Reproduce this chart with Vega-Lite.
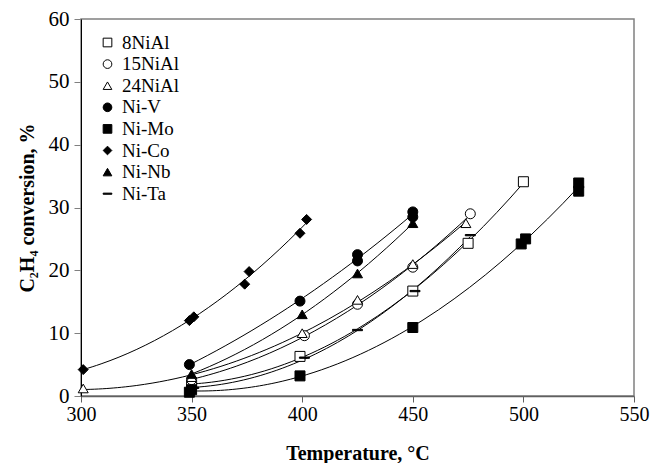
{
  "$schema": "https://vega.github.io/schema/vega-lite/v6.json",
  "autosize": {"type": "none"},
  "padding": {"left": 81, "top": 19, "right": 18, "bottom": 67},
  "width": 553,
  "height": 377,
  "background": "white",
  "config": {
    "view": {"stroke": "#808080", "strokeWidth": 1.5},
    "font": "Liberation Serif",
    "axis": {"grid": false, "labelFont": "Liberation Serif", "titleFont": "Liberation Serif", "labelColor": "black", "titleColor": "black", "labelFontSize": 20, "titleFontSize": 20, "titleFontWeight": "bold"}
  },
  "data": {"values": [
    {"s": "8NiAl", "t": 350, "v": 1.8},
    {"s": "8NiAl", "t": 399, "v": 6.3},
    {"s": "8NiAl", "t": 450, "v": 16.7},
    {"s": "8NiAl", "t": 475, "v": 24.3},
    {"s": "8NiAl", "t": 500, "v": 34.1},
    {"s": "15NiAl", "t": 350, "v": 2.6},
    {"s": "15NiAl", "t": 401, "v": 9.6},
    {"s": "15NiAl", "t": 425, "v": 14.6},
    {"s": "15NiAl", "t": 450, "v": 20.5},
    {"s": "15NiAl", "t": 476, "v": 29.0},
    {"s": "24NiAl", "t": 301, "v": 1.2},
    {"s": "24NiAl", "t": 350, "v": 3.0},
    {"s": "24NiAl", "t": 400, "v": 10.0},
    {"s": "24NiAl", "t": 425, "v": 15.3},
    {"s": "24NiAl", "t": 450, "v": 21.0},
    {"s": "24NiAl", "t": 474, "v": 27.5},
    {"s": "Ni-V", "t": 349, "v": 5.0},
    {"s": "Ni-V", "t": 399, "v": 15.1},
    {"s": "Ni-V", "t": 425, "v": 22.5},
    {"s": "Ni-V", "t": 425, "v": 21.5},
    {"s": "Ni-V", "t": 450, "v": 29.3},
    {"s": "Ni-V", "t": 450, "v": 28.5},
    {"s": "Ni-Mo", "t": 349, "v": 0.6},
    {"s": "Ni-Mo", "t": 350, "v": 1.0},
    {"s": "Ni-Mo", "t": 399, "v": 3.2},
    {"s": "Ni-Mo", "t": 450, "v": 10.9},
    {"s": "Ni-Mo", "t": 499, "v": 24.2},
    {"s": "Ni-Mo", "t": 501, "v": 25.0},
    {"s": "Ni-Mo", "t": 525, "v": 33.9},
    {"s": "Ni-Mo", "t": 525, "v": 32.6},
    {"s": "Ni-Co", "t": 301, "v": 4.2},
    {"s": "Ni-Co", "t": 349, "v": 12.0},
    {"s": "Ni-Co", "t": 351, "v": 12.6},
    {"s": "Ni-Co", "t": 374, "v": 17.8},
    {"s": "Ni-Co", "t": 376, "v": 19.8},
    {"s": "Ni-Co", "t": 399, "v": 25.9},
    {"s": "Ni-Co", "t": 402, "v": 28.1},
    {"s": "Ni-Nb", "t": 350, "v": 3.5},
    {"s": "Ni-Nb", "t": 400, "v": 13.0},
    {"s": "Ni-Nb", "t": 425, "v": 19.5},
    {"s": "Ni-Nb", "t": 450, "v": 27.5},
    {"s": "Ni-Ta", "t": 351, "v": 1.3},
    {"s": "Ni-Ta", "t": 401, "v": 6.1},
    {"s": "Ni-Ta", "t": 425, "v": 10.5},
    {"s": "Ni-Ta", "t": 451, "v": 16.7},
    {"s": "Ni-Ta", "t": 476, "v": 25.6}
  ]},
  "layer": [
    {
      "transform": [{"regression": "v", "on": "t", "groupby": ["s"], "method": "poly", "order": 2}],
      "mark": {"type": "line", "color": "black", "strokeWidth": 1},
      "encoding": {
        "x": {"field": "t", "type": "quantitative"},
        "y": {"field": "v", "type": "quantitative"},
        "detail": {"field": "s", "type": "nominal"}
      }
    },
    {
      "mark": {"type": "point", "filled": true, "stroke": "black", "strokeWidth": 1, "opacity": 1, "size": 100},
      "encoding": {
        "x": {"field": "t", "type": "quantitative", "scale": {"domain": [300, 550], "nice": false, "zero": false},
          "axis": {"title": "Temperature, °C", "values": [300, 350, 400, 450, 500, 550], "tickSize": 6, "tickColor": "#606060", "domainColor": "#606060", "domainWidth": 1.5, "labelPadding": 2, "titlePadding": 19, "labelFlush": false}},
        "y": {"field": "v", "type": "quantitative", "scale": {"domain": [0, 60], "nice": false},
          "axis": {"title": "C₂H₄ conversion, %", "values": [0, 10, 20, 30, 40, 50, 60], "tickSize": 7, "tickColor": "#808080", "domainColor": "black", "labelPadding": 5, "labelFontSize": 21, "titlePadding": 11, "labelFlush": false}},
        "shape": {"field": "s", "type": "nominal",
          "scale": {"domain": ["8NiAl", "15NiAl", "24NiAl", "Ni-V", "Ni-Mo", "Ni-Co", "Ni-Nb", "Ni-Ta"],
            "range": ["square", "circle", "triangle-up", "circle", "square", "diamond", "triangle-up", "M-1,-0.13H1V0.13H-1Z"]},
          "legend": {"title": null}},
        "fill": {"field": "s", "type": "nominal",
          "scale": {"domain": ["8NiAl", "15NiAl", "24NiAl", "Ni-V", "Ni-Mo", "Ni-Co", "Ni-Nb", "Ni-Ta"],
            "range": ["white", "white", "white", "black", "black", "black", "black", "black"]},
          "legend": {"title": null, "orient": "none", "legendX": 17, "legendY": 14, "labelFont": "Liberation Serif", "labelFontSize": 19, "labelColor": "black", "symbolSize": 75, "symbolStrokeColor": "black", "symbolStrokeWidth": 1, "rowPadding": 1.6, "labelOffset": 5}}
      }
    }
  ]
}
